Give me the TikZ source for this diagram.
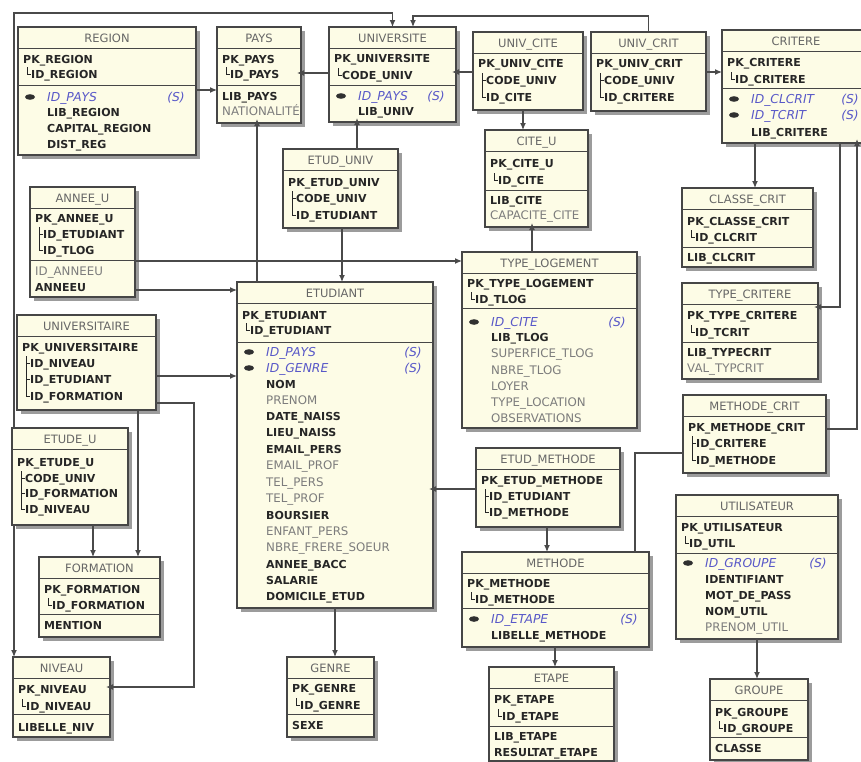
\documentclass[tikz,border=0pt]{standalone}
\usepackage{fontspec}
\setmainfont{DejaVu Sans}
\usetikzlibrary{arrows.meta,shadows}
\definecolor{boxfill}{HTML}{FDFCE6}
\definecolor{shadowc}{HTML}{9C9C9C}
\definecolor{linec}{HTML}{464646}
\definecolor{connc}{HTML}{4A4A4A}
\definecolor{ttlc}{HTML}{666666}
\definecolor{txtc}{HTML}{262626}
\definecolor{optc}{HTML}{7C7C7C}
\definecolor{fkc}{HTML}{5858C8}
\definecolor{keyc}{HTML}{303030}
\newcounter{rc}
\tikzset{
 tbox/.style={draw=linec, fill=boxfill, line width=1.1pt, inner sep=0pt, outer sep=0pt, anchor=north west,
   drop shadow={shadow xshift=4pt, shadow yshift=-4pt, fill=shadowc, opacity=1}},
 bl/.style={draw=linec, line width=1pt},
 tl/.style={draw=txtc, line width=0.8pt},
 ttl/.style={anchor=base, inner sep=0pt, font=\fontsize{11.5}{12}\selectfont, text=ttlc},
 row/.style={anchor=base west, inner sep=0pt},
 bd/.style={font=\fontsize{11}{12}\selectfont\bfseries, text=txtc},
 op/.style={font=\fontsize{11.8}{12}\selectfont, text=optc},
 fkt/.style={font=\fontsize{12.3}{12}\selectfont\itshape, text=fkc},
 conn/.style={draw=connc, line width=1.2pt, -{Latex[length=7pt,width=6pt]}},
 plainc/.style={draw=connc, line width=1.2pt},
 sh/.style={shorten >=-4pt},
}
\newcommand\erTab[6]{\gdef\erX{#2}\gdef\erXR{#4}\gdef\erAO{5}%
 \node[tbox, minimum width={(#4-#2)*1pt}, minimum height={(#5-#3)*1pt}] (#1) at (#2,#3) {};%
 \draw[bl] (#2,{#3+21.5}) -- (#4,{#3+21.5});%
 \stepcounter{rc}\node[ttl] (t\arabic{rc}) at ({(#2+#4)/2},{#3+15}) {#6};}
\newcommand\erFKtab{\gdef\erAO{29}}
\newcommand\erRow[4]{\stepcounter{rc}\node[row,#1] (r\arabic{rc}) at ({#2},{#3+4}) {#4};}
\newcommand\erPK[2]{\erRow{bd}{\erX+5}{#1}{#2}}
\newcommand\erSub[2]{\draw[tl] ({\erX+9},#1) -- ({\erX+12.5},#1);\erRow{bd}{\erX+13}{#1}{#2}}
\newcommand\erTree[2]{\draw[tl] ({\erX+9},{#1-7}) -- ({\erX+9},#2);}
\newcommand\erSep[1]{\draw[bl] ({\erX},#1) -- ({\erXR},#1);}
\newcommand\erMa[2]{\erRow{bd}{\erX+\erAO}{#1}{#2}}
\newcommand\erOp[2]{\erRow{op}{\erX+\erAO}{#1}{#2}}
\newcommand\erFK[2]{\fill[keyc] ({\erX+12},#1) ellipse [x radius=5pt, y radius=2.8pt];%
 \erRow{fkt}{\erX+\erAO}{#1}{#2}%
 \stepcounter{rc}\node[row, fkt, anchor=base] (r\arabic{rc}) at ({\erXR-20},{#1+4}) {(S)};}
\begin{document}
\begin{tikzpicture}[x=1pt,y=-1pt]
\path[use as bounding box, fill=white] (0,0) rectangle (861,761);

% REGION
\erTab{region}{18}{27}{196}{155}{REGION}\erFKtab
\erPK{59}{PK\_REGION}
\erTree{74}{74}\erSub{74}{ID\_REGION}
\erSep{85}
\erFK{97}{ID\_PAYS}
\erMa{112}{LIB\_REGION}
\erMa{128}{CAPITAL\_REGION}
\erMa{144}{DIST\_REG}

% PAYS
\erTab{pays}{217}{27}{301}{123}{PAYS}
\erPK{59}{PK\_PAYS}
\erTree{74}{74}\erSub{74}{ID\_PAYS}
\erSep{85}
\erMa{96}{LIB\_PAYS}
\erOp{111}{NATIONALITÉ}

% UNIVERSITE
\erTab{univ}{329}{27}{456}{122}{UNIVERSITE}\erFKtab
\erPK{58}{PK\_UNIVERSITE}
\erTree{75}{75}\erSub{75}{CODE\_UNIV}
\erSep{85}
\erFK{96}{ID\_PAYS}
\erMa{111}{LIB\_UNIV}

% UNIV_CITE
\erTab{univcite}{473}{32}{583}{110}{UNIV\_CITE}
\erPK{63}{PK\_UNIV\_CITE}
\erTree{80}{97}\erSub{80}{CODE\_UNIV}\erSub{97}{ID\_CITE}

% UNIV_CRIT
\erTab{univcrit}{591}{32}{706}{111}{UNIV\_CRIT}
\erPK{63}{PK\_UNIV\_CRIT}
\erTree{80}{97}\erSub{80}{CODE\_UNIV}\erSub{97}{ID\_CRITERE}

% CRITERE
\erTab{critere}{722}{30}{870}{143}{CRITERE}\erFKtab
\erPK{62}{PK\_CRITERE}
\erTree{79}{79}\erSub{79}{ID\_CRITERE}
\erSep{88}
\erFK{99}{ID\_CLCRIT}
\erFK{115}{ID\_TCRIT}
\erMa{132}{LIB\_CRITERE}

% CITE_U
\erTab{citeu}{485}{130}{588}{227}{CITE\_U}
\erPK{163}{PK\_CITE\_U}
\erTree{180}{180}\erSub{180}{ID\_CITE}
\erSep{190}
\erMa{200}{LIB\_CITE}
\erOp{215}{CAPACITE\_CITE}

% ETUD_UNIV
\erTab{etuduniv}{283}{149}{398}{228}{ETUD\_UNIV}
\erPK{182}{PK\_ETUD\_UNIV}
\erTree{198}{215}\erSub{198}{CODE\_UNIV}\erSub{215}{ID\_ETUDIANT}

% ANNEE_U
\erTab{anneeu}{30}{187}{135}{297}{ANNEE\_U}
\erPK{218}{PK\_ANNEE\_U}
\erTree{234}{250}\erSub{234}{ID\_ETUDIANT}\erSub{250}{ID\_TLOG}
\erSep{260}
\erOp{271}{ID\_ANNEEU}
\erMa{287}{ANNEEU}

% UNIVERSITAIRE
\erTab{universitaire}{17}{315}{156}{410}{UNIVERSITAIRE}
\erPK{347}{PK\_UNIVERSITAIRE}
\erTree{363}{396}\erSub{363}{ID\_NIVEAU}\erSub{379}{ID\_ETUDIANT}\erSub{396}{ID\_FORMATION}

% ETUDIANT
\erTab{etudiant}{237}{282}{433}{608}{ETUDIANT}\erFKtab
\erPK{315}{PK\_ETUDIANT}
\erTree{330}{330}\erSub{330}{ID\_ETUDIANT}
\erSep{342}
\erFK{352}{ID\_PAYS}
\erFK{368}{ID\_GENRE}
\erMa{384}{NOM}
\erOp{400}{PRENOM}
\erMa{416}{DATE\_NAISS}
\erMa{432}{LIEU\_NAISS}
\erMa{449}{EMAIL\_PERS}
\erOp{465}{EMAIL\_PROF}
\erOp{482}{TEL\_PERS}
\erOp{498}{TEL\_PROF}
\erMa{515}{BOURSIER}
\erOp{531}{ENFANT\_PERS}
\erOp{547}{NBRE\_FRERE\_SOEUR}
\erMa{564}{ANNEE\_BACC}
\erMa{580}{SALARIE}
\erMa{596}{DOMICILE\_ETUD}

% TYPE_LOGEMENT
\erTab{typelog}{462}{252}{637}{428}{TYPE\_LOGEMENT}\erFKtab
\erPK{283}{PK\_TYPE\_LOGEMENT}
\erTree{299}{299}\erSub{299}{ID\_TLOG}
\erSep{308}
\erFK{322}{ID\_CITE}
\erMa{337}{LIB\_TLOG}
\erOp{353}{SUPERFICE\_TLOG}
\erOp{370}{NBRE\_TLOG}
\erOp{386}{LOYER}
\erOp{402}{TYPE\_LOCATION}
\erOp{418}{OBSERVATIONS}

% CLASSE_CRIT
\erTab{classecrit}{682}{188}{813}{267}{CLASSE\_CRIT}
\erPK{221}{PK\_CLASSE\_CRIT}
\erTree{237}{237}\erSub{237}{ID\_CLCRIT}
\erSep{247}
\erMa{257}{LIB\_CLCRIT}

% TYPE_CRITERE
\erTab{typecrit}{682}{283}{818}{379}{TYPE\_CRITERE}
\erPK{315}{PK\_TYPE\_CRITERE}
\erTree{332}{332}\erSub{332}{ID\_TCRIT}
\erSep{342}
\erMa{352}{LIB\_TYPECRIT}
\erOp{368}{VAL\_TYPCRIT}

% METHODE_CRIT
\erTab{methcrit}{683}{395}{826}{473}{METHODE\_CRIT}
\erPK{427}{PK\_METHODE\_CRIT}
\erTree{443}{460}\erSub{443}{ID\_CRITERE}\erSub{460}{ID\_METHODE}

% ETUD_METHODE
\erTab{etudmeth}{476}{448}{620}{527}{ETUD\_METHODE}
\erPK{480}{PK\_ETUD\_METHODE}
\erTree{496}{512}\erSub{496}{ID\_ETUDIANT}\erSub{512}{ID\_METHODE}

% METHODE
\erTab{methode}{462}{552}{649}{647}{METHODE}\erFKtab
\erPK{583}{PK\_METHODE}
\erTree{599}{599}\erSub{599}{ID\_METHODE}
\erSep{608}
\erFK{619}{ID\_ETAPE}
\erMa{635}{LIBELLE\_METHODE}

% ETAPE
\erTab{etape}{489}{667}{614}{761}{ETAPE}
\erPK{699}{PK\_ETAPE}
\erTree{716}{716}\erSub{716}{ID\_ETAPE}
\erSep{726}
\erMa{736}{LIB\_ETAPE}
\erMa{752}{RESULTAT\_ETAPE}

% UTILISATEUR
\erTab{util}{676}{495}{838}{639}{UTILISATEUR}\erFKtab
\erPK{527}{PK\_UTILISATEUR}
\erTree{543}{543}\erSub{543}{ID\_UTIL}
\erSep{553}
\erFK{563}{ID\_GROUPE}
\erMa{579}{IDENTIFIANT}
\erMa{595}{MOT\_DE\_PASS}
\erMa{611}{NOM\_UTIL}
\erOp{627}{PRENOM\_UTIL}

% GROUPE
\erTab{groupe}{710}{679}{808}{760}{GROUPE}
\erPK{712}{PK\_GROUPE}
\erTree{728}{728}\erSub{728}{ID\_GROUPE}
\erSep{737}
\erMa{748}{CLASSE}

% ETUDE_U
\erTab{etudeu}{12}{428}{128}{525}{ETUDE\_U}
\erPK{462}{PK\_ETUDE\_U}
\erTree{478}{509}\erSub{478}{CODE\_UNIV}\erSub{493}{ID\_FORMATION}\erSub{509}{ID\_NIVEAU}

% FORMATION
\erTab{formation}{39}{557}{160}{637}{FORMATION}
\erPK{589}{PK\_FORMATION}
\erTree{605}{605}\erSub{605}{ID\_FORMATION}
\erSep{614}
\erMa{625}{MENTION}

% NIVEAU
\erTab{niveau}{13}{657}{110}{737}{NIVEAU}
\erPK{689}{PK\_NIVEAU}
\erTree{706}{706}\erSub{706}{ID\_NIVEAU}
\erSep{714}
\erMa{727}{LIBELLE\_NIV}

% GENRE
\erTab{genre}{287}{657}{374}{737}{GENRE}
\erPK{688}{PK\_GENRE}
\erTree{705}{705}\erSub{705}{ID\_GENRE}
\erSep{714}
\erMa{725}{SEXE}

% ---------- connectors ----------
\coordinate (k1) at (14,13);
\coordinate (k2) at (413,16);
\coordinate (k3) at (194,403);
\coordinate (k4) at (194,687);
\coordinate (k5) at (635,453);
\coordinate (k6) at (857,429);
\coordinate (k7) at (840,307);
\coordinate (h73) at (0,73);
\coordinate (h72) at (0,72);
\coordinate (h90) at (0,90);
\coordinate (h261) at (0,261);
\coordinate (h290) at (0,290);
\coordinate (h376) at (0,376);
\coordinate (h489) at (0,489);
\coordinate (v523) at (523,0);
\coordinate (v357) at (357,0);
\coordinate (v257) at (257,0);
\coordinate (v342) at (342,0);
\coordinate (v138) at (138,0);
\coordinate (v93) at (93,0);
\coordinate (v335) at (335,0);
\coordinate (v547) at (547,0);
\coordinate (v555) at (555,0);
\coordinate (v755) at (755,0);
\coordinate (v532) at (532,0);
\coordinate (v757) at (757,0);

\draw[conn] (etudeu.north west -| k1) -- (k1) -| (univ.north);
\draw[conn] (etudeu.south west -| k1) -- (niveau.north west -| k1);
\draw[conn] (univcrit.north) |- (k2) -- (univ.north -| k2);
\draw[conn] (region.east |- h90) -- (pays.west |- h90);
\draw[conn,sh] (univ.west |- h73) -- (pays.east |- h73);
\draw[conn,sh] (univcite.west |- h72) -- (univ.east |- h72);
\draw[conn] (univcrit.east |- h72) -- (critere.west |- h72);
\draw[conn] (univcite.south -| v523) -- (citeu.north -| v523);
\draw[conn,sh] (etuduniv.north -| v357) -- (univ.south -| v357);
\draw[conn,sh] (etudiant.north -| v257) -- (pays.south -| v257);
\draw[conn] (etuduniv.south -| v342) -- (etudiant.north -| v342);
\draw[conn] (anneeu.east |- h261) -- (typelog.west |- h261);
\draw[conn] (anneeu.east |- h290) -- (etudiant.west |- h290);
\draw[conn] (universitaire.east |- h376) -- (etudiant.west |- h376);
\draw[conn] (universitaire.south -| v138) -- (formation.north -| v138);
\draw[conn,sh] (universitaire.east |- k3) -- (k3) -- (k4) -- (niveau.east |- k4);
\draw[conn] (etudeu.south -| v93) -- (formation.north -| v93);
\draw[conn] (etudiant.south -| v335) -- (genre.north -| v335);
\draw[conn,sh] (etudmeth.west |- h489) -- (etudiant.east |- h489);
\draw[conn] (etudmeth.south -| v547) -- (methode.north -| v547);
\draw[conn] (methode.south -| v555) -- (etape.north -| v555);
\draw[plainc] (methcrit.west |- k5) -- (k5) -- (methode.north -| k5);
\draw[conn,sh] (methcrit.east |- k6) -- (k6) -- (critere.south -| k6);
\draw[conn] (critere.south -| v755) -- (classecrit.north -| v755);
\draw[conn,sh] (critere.south -| k7) -- (k7) -- (typecrit.east |- k7);
\draw[conn,sh] (typelog.north -| v532) -- (citeu.south -| v532);
\draw[conn] (util.south -| v757) -- (groupe.north -| v757);
\end{tikzpicture}
\end{document}
